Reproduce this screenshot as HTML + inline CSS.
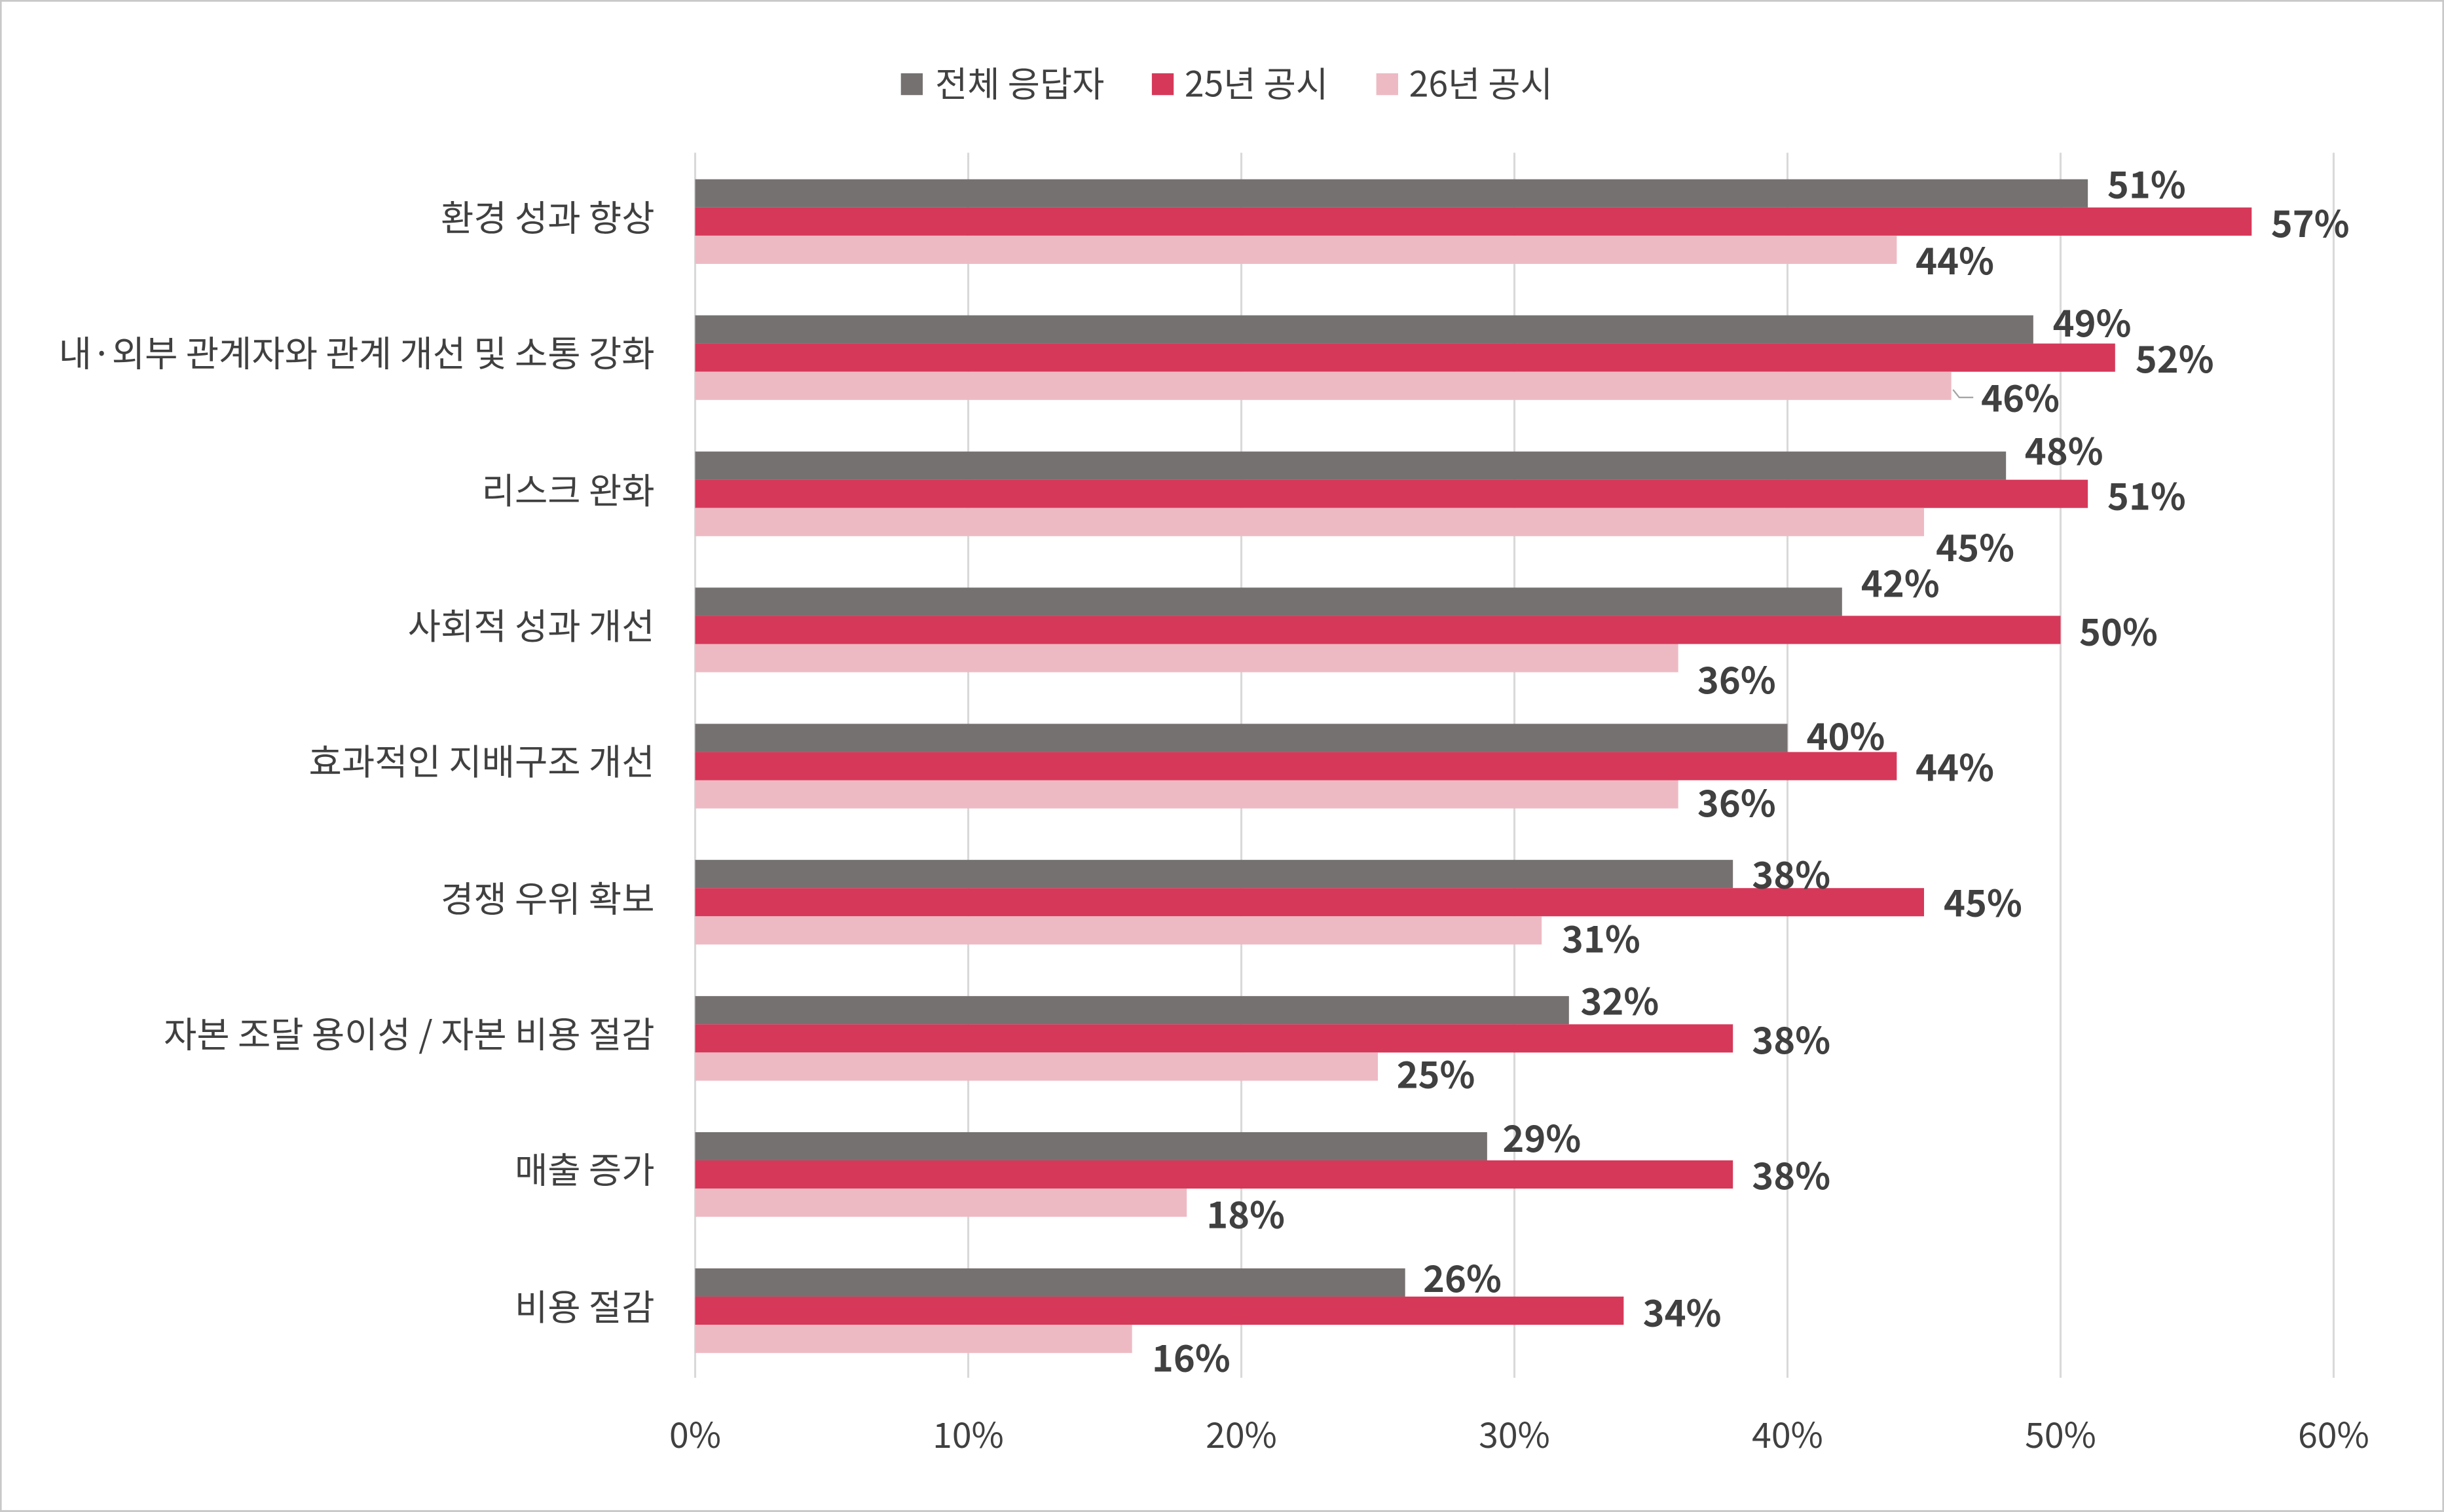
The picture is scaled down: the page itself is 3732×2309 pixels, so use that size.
<!DOCTYPE html>
<html><head><meta charset="utf-8"><style>
html,body{margin:0;padding:0;background:#fff;}
svg{display:block;}
text{font-family:"Noto Sans CJK KR","Liberation Sans",sans-serif;fill:#404040;}
.c{font-size:22.5px;}
.cat{font-size:23px;}
.d{font-size:23.5px;font-weight:bold;}
.t{font-size:22.5px;}
</style></head><body>
<svg width="3732" height="2309" viewBox="0 0 1568 970.1" xmlns="http://www.w3.org/2000/svg">
<rect x="0.5" y="0.5" width="1567" height="969" fill="#fff" stroke="#c8c8c8" stroke-width="1.2"/>
<rect x="578" y="47" width="14" height="14" fill="#767171"/>
<text class="c" x="600" y="62">전체 응답자</text>
<rect x="739" y="47" width="14" height="14" fill="#d63859"/>
<text class="c" x="760" y="62">25년 공시</text>
<rect x="883" y="47" width="14" height="14" fill="#edbac3"/>
<text class="c" x="904" y="62">26년 공시</text>
<g stroke="#d9d9d9" stroke-width="1.3">
<line x1="446" y1="98" x2="446" y2="884"/>
<line x1="621.2" y1="98" x2="621.2" y2="884"/>
<line x1="796.4" y1="98" x2="796.4" y2="884"/>
<line x1="971.6" y1="98" x2="971.6" y2="884"/>
<line x1="1146.8" y1="98" x2="1146.8" y2="884"/>
<line x1="1322" y1="98" x2="1322" y2="884"/>
<line x1="1497.2" y1="98" x2="1497.2" y2="884"/>
</g>
<g class="t" text-anchor="middle">
<text x="446" y="929">0%</text><text x="621.2" y="929">10%</text><text x="796.4" y="929">20%</text>
<text x="971.6" y="929">30%</text><text x="1146.8" y="929">40%</text><text x="1322" y="929">50%</text><text x="1497.2" y="929">60%</text>
</g>
<g>
<rect x="446" y="115" width="893.5" height="18.1" fill="#767171"/><rect x="446" y="133.1" width="998.6" height="18.1" fill="#d63859"/><rect x="446" y="151.2" width="770.9" height="18.1" fill="#edbac3"/>
<rect x="446" y="202.3" width="858.5" height="18.1" fill="#767171"/><rect x="446" y="220.4" width="911" height="18.1" fill="#d63859"/><rect x="446" y="238.5" width="805.9" height="18.1" fill="#edbac3"/>
<rect x="446" y="289.7" width="841" height="18.1" fill="#767171"/><rect x="446" y="307.8" width="893.5" height="18.1" fill="#d63859"/><rect x="446" y="325.9" width="788.4" height="18.1" fill="#edbac3"/>
<rect x="446" y="377" width="735.8" height="18.1" fill="#767171"/><rect x="446" y="395.1" width="876" height="18.1" fill="#d63859"/><rect x="446" y="413.2" width="630.7" height="18.1" fill="#edbac3"/>
<rect x="446" y="464.4" width="700.8" height="18.1" fill="#767171"/><rect x="446" y="482.5" width="770.9" height="18.1" fill="#d63859"/><rect x="446" y="500.6" width="630.7" height="18.1" fill="#edbac3"/>
<rect x="446" y="551.7" width="665.8" height="18.1" fill="#767171"/><rect x="446" y="569.8" width="788.4" height="18.1" fill="#d63859"/><rect x="446" y="587.9" width="543.1" height="18.1" fill="#edbac3"/>
<rect x="446" y="639.1" width="560.6" height="18.1" fill="#767171"/><rect x="446" y="657.2" width="665.8" height="18.1" fill="#d63859"/><rect x="446" y="675.3" width="438" height="18.1" fill="#edbac3"/>
<rect x="446" y="726.4" width="508.1" height="18.1" fill="#767171"/><rect x="446" y="744.5" width="665.8" height="18.1" fill="#d63859"/><rect x="446" y="762.6" width="315.4" height="18.1" fill="#edbac3"/>
<rect x="446" y="813.8" width="455.5" height="18.1" fill="#767171"/><rect x="446" y="831.9" width="595.7" height="18.1" fill="#d63859"/><rect x="446" y="850" width="280.3" height="18.1" fill="#edbac3"/>
</g>
<g class="cat" text-anchor="end">
<text x="420" y="148">환경 성과 향상</text>
<text x="420" y="235">내·외부 관계자와 관계 개선 및 소통 강화</text>
<text x="420" y="323">리스크 완화</text>
<text x="420" y="410">사회적 성과 개선</text>
<text x="420" y="497">효과적인 지배구조 개선</text>
<text x="420" y="585">경쟁 우위 확보</text>
<text x="420" y="672">자본 조달 용이성 / 자본 비용 절감</text>
<text x="420" y="759">매출 증가</text>
<text x="420" y="847">비용 절감</text>
</g>
<polyline points="1253,250 1257,255 1266,255" fill="none" stroke="#a6a6a6" stroke-width="1"/>
<g class="d">
<text x="1352" y="127">51%</text><text x="1457" y="152">57%</text><text x="1229" y="176">44%</text>
<text x="1317" y="216">49%</text><text x="1370" y="239">52%</text><text x="1271" y="264">46%</text>
<text x="1299" y="298">48%</text><text x="1352" y="327">51%</text><text x="1242" y="360">45%</text>
<text x="1194" y="383">42%</text><text x="1334" y="414">50%</text><text x="1089" y="445">36%</text>
<text x="1159" y="481">40%</text><text x="1229" y="501">44%</text><text x="1089" y="524">36%</text>
<text x="1124" y="570">38%</text><text x="1247" y="588">45%</text><text x="1002" y="611">31%</text>
<text x="1014" y="651">32%</text><text x="1124" y="676">38%</text><text x="896" y="698">25%</text>
<text x="964" y="739">29%</text><text x="1124" y="763">38%</text><text x="774" y="788">18%</text>
<text x="913" y="829">26%</text><text x="1054" y="851">34%</text><text x="739" y="880">16%</text>
</g>
</svg>
</body></html>
